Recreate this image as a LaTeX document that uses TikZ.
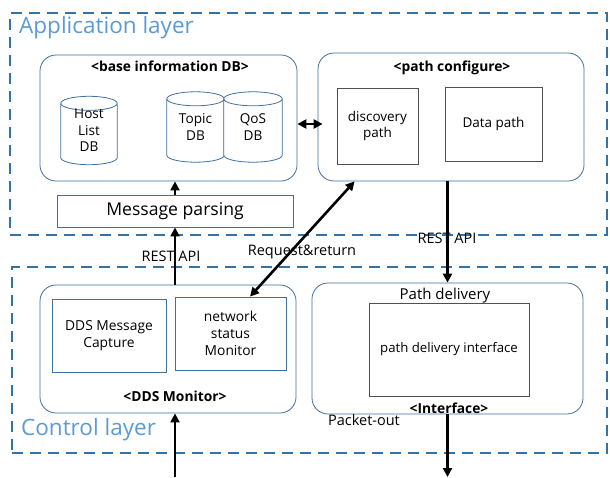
\documentclass[tikz,border=0pt]{standalone}
\usepackage{fontspec}
\setmainfont{Open Sans}
\usetikzlibrary{arrows.meta,calc,backgrounds}

\definecolor{layerline}{HTML}{3572A5}
\definecolor{layertext}{HTML}{5B9BD5}
\definecolor{boxblue}{HTML}{41719C}
\definecolor{boxgray}{HTML}{505050}

\tikzset{
  layer/.style={draw=layerline, line width=2.4pt, dash pattern=on 11pt off 7pt},
  layerlbl/.style={text=layertext, font=\fontsize{22.5}{26}\selectfont, anchor=west, inner sep=0},
  group/.style={draw=boxblue, line width=0.8pt, rounded corners=16pt},
  bluebox/.style={draw=boxblue, line width=0.9pt, align=center,
    font=\fontsize{13.8}{16.8}\selectfont},
  graybox/.style={draw=boxgray, line width=0.9pt, align=center,
    font=\fontsize{13.5}{16.8}\selectfont},
  dbtext/.style={align=center, inner sep=0, font=\fontsize{13.6}{16.5}\selectfont},
  dbline/.style={draw=boxblue, line width=0.8pt, fill=white},
  ttl/.style={font=\bfseries\fontsize{13.8}{16}\selectfont, inner sep=0},
  lbl/.style={font=\fontsize{14.5}{17}\selectfont, inner sep=0},
  link/.style={line width=2.6pt, -{Triangle[length=9pt,width=9pt]}},
  dlink/.style={line width=2.6pt, {Triangle[length=9pt,width=9pt]}-{Triangle[length=9pt,width=9pt]}},
}

% database cylinder drawn behind the node that carries its text
\newcommand\dbshape[1]{%
  \begin{scope}[on background layer]
  \draw[dbline] let \p1=(#1.north west), \p2=(#1.south east), \n1={(\x2-\x1)/2} in
    (\x1,{\y1-7pt}) -- (\x1,{\y2+7pt})
    arc[start angle=180, end angle=360, x radius=\n1, y radius=7pt]
    -- (\x2,{\y1-7pt})
    arc[start angle=0, end angle=180, x radius=\n1, y radius=7pt] -- cycle
    ({(\x1+\x2)/2},{\y1-7pt}) ellipse[x radius=\n1, y radius=7pt];
  \end{scope}}

\begin{document}
\begin{tikzpicture}[x=1pt, y=-1pt]
\useasboundingbox (0,0) rectangle (610,477);
\begin{scope}[on background layer]
  \fill[white] (0,0) rectangle (610,477);
\end{scope}

% layers
\node[layer, minimum width=597, minimum height=222] (app) at (308.5,124) {};
\node[layer, minimum width=595, minimum height=186] (ctrl) at (309.5,360) {};
\node[layerlbl] (applbl) at (19,27.5) {Application layer};
\node[layerlbl] (ctrllbl) at (21,430) {Control layer};

% application layer: base information DB
\node[group, minimum width=257, minimum height=126] (base) at (168.5,118) {};
\node[ttl] (basettl) at (170,66) {<base information DB>};
\node[dbtext, minimum width=56, minimum height=68] (host) at (89,130.5) {Host\\List\\DB};
\dbshape{host}
\node[dbtext, minimum width=57, minimum height=70] (topic) at (195.5,127) {Topic\\DB};
\dbshape{topic}
\node[dbtext, minimum width=58, minimum height=70] (qos) at (253,127) {QoS\\DB};
\dbshape{qos}

\node[draw=boxblue, line width=0.9pt, minimum width=236, minimum height=32,
  font=\fontsize{17.6}{21}\selectfont] (parse) at (175,211) {Message parsing};

% application layer: path configure
\node[group, minimum width=266, minimum height=128] (pathcfg) at (451,117) {};
\node[ttl] (pathttl) at (452,68) {<path configure>};
\node[graybox, minimum width=81, minimum height=76] (disc) at (377.5,126) {discovery\\path};
\node[graybox, minimum width=97, minimum height=74] (data) at (493.5,124) {Data path};

% control layer: DDS monitor
\node[group, minimum width=256, minimum height=128] (ddsmon) at (168,349) {};
\node[ttl] (ddsttl) at (175,396) {<DDS Monitor>};
\node[bluebox, minimum width=114, minimum height=73] (capture) at (109,335.5) {DDS Message\\Capture};
\node[bluebox, minimum width=111, minimum height=73] (netmon) at (230.5,333.5) {network\\status\\Monitor};

% control layer: interface
\node[group, minimum width=271, minimum height=131] (iface) at (447.5,348.5) {};
\node[lbl, font=\fontsize{15}{17}\selectfont] (pathdel) at (445,296) {Path delivery};
\node[graybox, minimum width=160, minimum height=93, font=\fontsize{13.2}{16}\selectfont] (pdi) at (449,349.5) {path delivery interface};
\node[ttl] (ifacettl) at (449,408) {<Interface>};

% connector labels
\node[lbl] (restl) at (171,256) {REST API};
\node[lbl] (restr) at (447,238) {REST API};
\node[lbl] (reqret) at (302,252) {Request\&return};
\node[lbl] (pktout) at (364,420) {Packet-out};

% connectors
\coordinate (inL) at (175,477);
\coordinate (outR) at (447.5,477);
\draw[link] (parse.north) -- (parse.north |- base.south);
\draw[link] (ddsmon.north -| parse.south) -- (parse.south);
\draw[link] (inL) -- (inL |- ddsmon.south);
\draw[link] (pathcfg.south -| iface.north) -- (iface.north);
\draw[link] (iface.south) -- (outR);
\draw[dlink] ([yshift=-6pt]base.east) -- ([xshift=5pt,yshift=-7pt]pathcfg.west);
\draw[dlink] ([xshift=37pt]pathcfg.south west) -- ([xshift=19.5pt]netmon.north);
\end{tikzpicture}
\end{document}
